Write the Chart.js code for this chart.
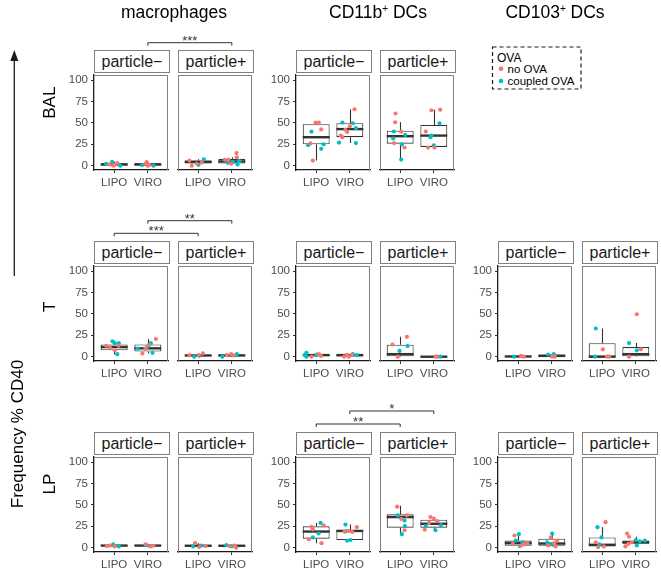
<!DOCTYPE html>
<html>
<head>
<meta charset="utf-8">
<script src="https://cdn.jsdelivr.net/npm/chart.js@4.4.1/dist/chart.umd.min.js"></script>
<style>
body { margin: 0; background: #fff; }
#wrap { position: relative; width: 661px; height: 573px; overflow: hidden; font-family: 'Liberation Sans', Arial, sans-serif; }
canvas { position: absolute; }
.strip { position: absolute; box-sizing: border-box; width: 76px; height: 23px; border: 1px solid #7f7f7f; background: #fff;
  text-align: center; font-size: 16px; line-height: 21px; color: #1a1a1a; }
svg { position: absolute; left: 0; top: 0; }
</style>
</head>
<body>
<div id="wrap"></div>
<script>
// x categories and y tick labels
const groups = ['LIPO', 'VIRO'];
const yTicks = [0, 25, 50, 75, 100];
const facetLabels = ['particle\u2212', 'particle+'];

// box stats: [lower whisker, q1, median, q3, upper whisker] for LIPO, VIRO
// points: [x (1 = LIPO, 2 = VIRO, with jitter), value, ova (0 = no OVA, 1 = coupled OVA)]

// macrophages
const macBALneg_box = [[0, 0.3, 1.5, 3, 4.5], [0, 0.3, 1.5, 2.8, 4.2]];
const macBALneg_pts = [[0.76,2.3,1],[0.94,4.5,1],[0.86,1.5,0],[0.97,0,0],[1.09,3,0],[1.18,0,1],[1.02,1.1,0],
  [1.83,0.8,1],[1.93,2.3,0],[2.0,0,0],[1.97,4.2,0],[2.17,0,1],[2.05,1.1,0]];
const macBALpos_box = [[0, 2.5, 4.5, 6.2, 7.5], [1.5, 2.6, 5, 8, 9.8]];
const macBALpos_pts = [[0.74,6,0],[0.81,0,0],[0.96,2.3,0],[1.01,1.1,1],[1.17,7.5,1],[1.11,3.8,0],
  [1.79,7,0],[1.88,3.4,1],[2.14,14.8,0],[2.15,9.8,0],[1.98,2.3,0],[2.17,1.5,1],[2.22,5.3,1],[2.03,4.2,1],[1.9,6.8,0]];

const macTneg_box = [[3, 7.5, 11.3, 14.3, 18], [3.8, 6, 9.8, 14.3, 20.7]];
const macTneg_pts = [[0.76,12.8,0],[0.95,18,1],[1.02,15.8,1],[0.87,11.3,0],[1.02,7.5,0],[1.09,3,1],[1.14,15.8,1],[1.13,12.8,0],
  [2.24,20.7,0],[2.09,15.8,1],[1.84,3.8,0],[1.93,9.4,0],[1.7,9.4,1],[2.14,4.5,1],[2.03,13.5,0],[1.98,11.3,1]];
const macTpos_box = [[0, 0.5, 1.5, 2, 3.8], [0, 0.5, 1.5, 2.5, 3]];
const macTpos_pts = [[0.74,1.9,0],[0.88,0,1],[1.14,3.8,0],[1.03,1.1,1],[1.01,1.9,0],
  [1.72,0,1],[1.85,1.9,0],[1.98,3,0],[2.15,3,1],[2.06,1.5,0]];

const macLPneg_box = [[1.5, 1.8, 2.5, 3.3, 3.8], [1.5, 2, 2.5, 3.3, 3.8]];
const macLPneg_pts = [[0.87,2.6,0],[0.97,3.8,1],[1.02,1.5,0],[1.14,1.5,1],[0.78,1.9,0],
  [1.93,3.8,0],[2.0,2.6,1],[2.08,1.5,0],[2.17,2.3,0]];
const macLPpos_box = [[0.8, 1.5, 2.3, 3, 5.3], [0, 1.5, 2.3, 3, 3]];
const macLPpos_pts = [[0.91,5.3,0],[0.85,1.5,1],[1.03,0.8,0],[1.1,2.6,1],[1.22,1.9,0],
  [1.84,3,1],[1.93,1.9,0],[2.08,2.6,0],[2.0,1.5,1],[2.13,0,0]];

// CD11b+ DCs
const cd11bBALneg_box = [[6, 25, 33.3, 48.5, 50.4], [26.5, 33.3, 42.8, 49.6, 66]];
const cd11bBALneg_pts = [[0.98,50.4,0],[1.08,50.4,0],[1.15,42.4,0],[0.83,26,0],[0.86,39.8,1],[0.76,24,1],[1.15,19.7,1],[1.22,25,1],[0.9,6,0],
  [2.14,66,0],[1.78,50.4,1],[2.09,49.6,1],[2.0,46,0],[1.87,42,0],[1.92,39.4,0],[1.73,35.2,0],[1.78,33.3,0],[2.18,44,1],[1.68,27,1],[2.18,26.5,1]];
const cd11bBALpos_box = [[7.2, 25.8, 34.5, 41, 50.7], [21.2, 22, 35.2, 47.7, 65.5]];
const cd11bBALpos_pts = [[0.86,61,0],[0.85,50.8,0],[1.03,39.8,0],[0.81,40,1],[0.79,31.8,1],[1.15,36,1],[0.82,26.5,0],[1.05,25,1],[1.13,21.2,0],[1.03,7.2,1],
  [1.93,64.8,0],[2.19,65.5,0],[2.17,49.6,1],[1.76,40,0],[1.93,35.2,1],[1.9,33.3,1],[2.0,23.9,1],[1.83,21.2,0],[2.02,21.2,0]];

const cd11bTneg_box = [[0, 0.5, 1.9, 3, 4.5], [0, 0.3, 1.9, 2.5, 3]];
const cd11bTneg_pts = [[0.71,4.5,1],[0.71,0,1],[0.86,0,0],[1.08,3,0],[1.14,1.1,0],[0.66,1.9,1],[1.0,1.9,1],
  [1.83,0,0],[1.92,2.3,0],[2.07,1.9,0],[2.09,3,1],[1.97,0,0],[2.21,1.9,1]];
const cd11bTpos_box = [[0, 0.5, 3, 14, 23.3], [0, 0, 0, 0.4, 0.4]];
const cd11bTpos_pts = [[0.77,14.3,0],[0.98,6.8,1],[1.2,23.3,0],[1.22,12.4,1],[0.93,0,0],
  [2.1,0,0],[2.19,0,1],[2.05,0,0]];

const cd11bLPneg_box = [[5.3, 10.6, 18.9, 25, 29], [8.3, 9, 19.6, 21, 27]];
const cd11bLPneg_pts = [[0.86,24.5,0],[0.9,21.5,0],[1.13,29,1],[1.22,26,0],[0.9,12,1],[1.07,16.6,1],[0.78,9.8,0],[1.16,5.3,0],
  [1.87,27,1],[2.21,24,0],[1.97,19.6,0],[2.07,18.5,0],[1.92,8.3,1],[2.02,9,1],[1.84,18.9,0],[1.87,19,1]];
const cd11bLPpos_box = [[15.8, 23.4, 35.8, 39, 49], [20.4, 23.4, 28, 32.8, 35.8]];
const cd11bLPpos_pts = [[0.91,48,0],[0.93,37.7,1],[1.2,37.7,0],[1.03,33.6,0],[1.13,31.7,1],[1.14,25.3,1],[1.13,20.4,0],[1.05,15.8,1],
  [1.9,35.8,0],[2.0,34,0],[1.86,29,0],[1.76,25.3,1],[1.73,21,0],[2.05,20.4,1],[2.21,26.4,1],[2.1,31,0]];

// CD103+ DCs (no BAL panel)
const cd103Tneg_box = [[0, 0, 0.3, 0.8, 1.1], [0, 0.3, 1, 2.5, 3]];
const cd103Tneg_pts = [[0.88,0,1],[1.08,1.1,0],[1.17,0,0],
  [1.89,2.6,1],[2.06,3,1],[2.09,0,0],[2.01,0,0]];
const cd103Tpos_box = [[0, 0, 0, 15.8, 33], [0, 0.5, 3, 11.3, 16]];
const cd103Tpos_pts = [[0.81,33,1],[1.02,8.6,0],[0.79,0,1],[1.14,0,0],[1.21,0,0],
  [2.03,49.6,0],[1.8,16,1],[2.03,7.5,1],[2.15,8.6,0],[1.8,0,0]];

const cd103LPneg_box = [[1.9, 2.3, 5.3, 8.3, 15.8], [1.5, 2.3, 4.9, 10.6, 16.6]];
const cd103LPneg_pts = [[0.89,14.3,0],[1.02,15.8,1],[0.84,4.5,0],[0.93,8.3,1],[1.08,2.6,0],[1.17,3.8,0],[1.13,6.4,1],[1.27,5.3,0],[1.05,1.9,1],
  [2.01,16.6,1],[1.97,12,0],[2.16,8.3,0],[1.86,6.4,1],[1.96,3.8,1],[2.11,1.5,0],[1.89,2.6,0],[2.07,5.3,0]];
const cd103LPpos_box = [[0.7, 1.5, 3.4, 12, 24], [1.5, 4.5, 6.4, 8.5, 12.8]];
const cd103LPpos_pts = [[1.1,29.8,0],[0.86,24,1],[0.98,12,1],[0.81,6.4,0],[0.88,0.7,0],[1.05,1.5,0],[0.92,3.8,1],
  [1.74,16.5,0],[1.8,12.8,0],[2.0,9,1],[1.78,4.5,0],[2.03,2.6,1],[2.12,7.5,1],[2.27,8.3,1],[1.69,1.5,0],[1.88,6.3,0]];

const ovaLabels = ['no OVA', 'coupled OVA'];
const ovaColors = ['#F8766D', '#00BFC4'];

// layout
const FONT = "'Liberation Sans', Arial, sans-serif";
Chart.defaults.font.family = FONT;
const wrap = document.getElementById('wrap');
const colLeft = { mac: 94, cd11b: 296, cd103: 498 };
const rowTop = { BAL: 50, T: 241, LP: 432 };

const panels = [
  ['mac', 'BAL', macBALneg_box, macBALneg_pts, macBALpos_box, macBALpos_pts],
  ['cd11b', 'BAL', cd11bBALneg_box, cd11bBALneg_pts, cd11bBALpos_box, cd11bBALpos_pts],
  ['mac', 'T', macTneg_box, macTneg_pts, macTpos_box, macTpos_pts],
  ['cd11b', 'T', cd11bTneg_box, cd11bTneg_pts, cd11bTpos_box, cd11bTpos_pts],
  ['cd103', 'T', cd103Tneg_box, cd103Tneg_pts, cd103Tpos_box, cd103Tpos_pts],
  ['mac', 'LP', macLPneg_box, macLPneg_pts, macLPpos_box, macLPpos_pts],
  ['cd11b', 'LP', cd11bLPneg_box, cd11bLPneg_pts, cd11bLPpos_box, cd11bLPpos_pts],
  ['cd103', 'LP', cd103LPneg_box, cd103LPneg_pts, cd103LPpos_box, cd103LPpos_pts]
];

// whiskers, panel frame and median lines
const boxPlugin = {
  id: 'boxplot',
  beforeDatasetsDraw(chart, args, opts) {
    const { ctx, chartArea: a, scales: { x, y } } = chart;
    ctx.save();
    ctx.strokeStyle = '#7f7f7f';
    ctx.lineWidth = 1;
    ctx.beginPath();
    ctx.moveTo(a.left, a.top + 0.5);
    ctx.lineTo(a.right - 0.5, a.top + 0.5);
    ctx.lineTo(a.right - 0.5, a.bottom);
    ctx.stroke();
    ctx.strokeStyle = '#333';
    ctx.lineWidth = 1.1;
    opts.stats.forEach((s, i) => {
      const px = Math.round(x.getPixelForValue(i + 1)) + 0.5;
      ctx.beginPath();
      ctx.moveTo(px, y.getPixelForValue(s[0]));
      ctx.lineTo(px, y.getPixelForValue(s[1]));
      ctx.moveTo(px, y.getPixelForValue(s[3]));
      ctx.lineTo(px, y.getPixelForValue(s[4]));
      ctx.stroke();
    });
    ctx.restore();
  },
  afterDatasetDraw(chart, args, opts) {
    if (args.index !== 0) return;
    const { ctx, scales: { y } } = chart;
    ctx.save();
    ctx.strokeStyle = '#333';
    ctx.lineWidth = 2.4;
    chart.getDatasetMeta(0).data.forEach((bar, i) => {
      const p = bar.getProps(['x', 'width'], true);
      const py = y.getPixelForValue(opts.stats[i][2]);
      ctx.beginPath();
      ctx.moveTo(p.x - p.width / 2, py);
      ctx.lineTo(p.x + p.width / 2, py);
      ctx.stroke();
    });
    ctx.restore();
  }
};

// keep the plot area fixed: no extra room for overhanging tick labels
function noPad(s) {
  s.paddingTop = 0; s.paddingBottom = 0; s.paddingLeft = 0; s.paddingRight = 0;
}

const charts = {};

function makeFacet(key, left, stripTop, box, pts, showY, label) {
  const strip = document.createElement('div');
  strip.className = 'strip';
  strip.style.left = left + 'px';
  strip.style.top = stripTop + 'px';
  strip.textContent = label;
  wrap.appendChild(strip);

  const cv = document.createElement('canvas');
  cv.width = 118;
  cv.height = 121;
  cv.style.left = (left - 40) + 'px';
  cv.style.top = (stripTop + 21) + 'px';
  wrap.appendChild(cv);

  const pointSets = [0, 1].map(g => ({
    type: 'scatter',
    data: pts.filter(p => p[2] === g).map(p => ({ x: p[0], y: p[1] })),
    backgroundColor: ovaColors[g],
    pointRadius: 2.1,
    pointBorderWidth: 0,
    order: 1
  }));

  const chart = new Chart(cv.getContext('2d'), {
    type: 'bar',
    data: {
      datasets: [{
        type: 'bar',
        data: box.map((s, i) => ({ x: i + 1, y: [s[1], s[3]] })),
        backgroundColor: '#ffffff',
        borderColor: '#333',
        borderWidth: 1.1,
        borderSkipped: false,
        barPercentage: 0.8,
        categoryPercentage: 1,
        order: 3
      }].concat(pointSets)
    },
    options: {
      responsive: false,
      animation: false,
      events: [],
      layout: { padding: { top: 1, right: 2, left: 0, bottom: 0 } },
      plugins: { legend: { display: false }, tooltip: { enabled: false }, boxplot: { stats: box } },
      scales: {
        x: {
          type: 'linear', min: 0.4, max: 2.6, offset: false,
          afterBuildTicks: s => { s.ticks = groups.map((g, i) => ({ value: i + 1 })); },
          afterFit: s => { s.height = 22; noPad(s); },
          ticks: { callback: (v, i) => groups[i], color: '#4d4d4d', font: { size: 11.5 }, padding: 3, maxRotation: 0, autoSkip: false },
          grid: { display: true, offset: false, drawOnChartArea: false, drawTicks: true, tickLength: 3, color: '#333' },
          border: { display: true, color: '#1a1a1a', width: 1.3 }
        },
        y: {
          min: -5, max: 106,
          afterBuildTicks: s => { s.ticks = yTicks.map(v => ({ value: v })); },
          afterFit: s => { s.width = 40; noPad(s); },
          ticks: { display: showY, color: '#4d4d4d', font: { size: 11.5 }, padding: 3 },
          grid: { display: showY, drawOnChartArea: false, drawTicks: true, tickLength: 3, color: '#333' },
          border: { display: true, color: showY ? '#1a1a1a' : '#7f7f7f', width: showY ? 1.3 : 1 }
        }
      }
    },
    plugins: [boxPlugin]
  });
  charts[key] = { chart, left: left - 40 };
}

panels.forEach(([col, row, nb, np, pb, pp]) => {
  makeFacet(col + row + '0', colLeft[col], rowTop[row], nb, np, true, facetLabels[0]);
  makeFacet(col + row + '1', colLeft[col] + 84, rowTop[row], pb, pp, false, facetLabels[1]);
});

// significance brackets: [panel, from facet, from group, to facet, to group, line y, label]
const brackets = [
  ['macBAL', 0, 1, 1, 1, 42.7, '***'],
  ['macT', 0, 1, 1, 1, 220.7, '**'],
  ['macT', 0, 0, 1, 0, 233.3, '***'],
  ['cd11bLP', 0, 1, 1, 1, 411, '*'],
  ['cd11bLP', 0, 0, 1, 0, 424, '**']
];

function px(key, g) {
  const c = charts[key];
  return c.chart.scales.x.getPixelForValue(g + 1) + c.left;
}

let svg = '<svg width="661" height="573" xmlns="http://www.w3.org/2000/svg" font-family="' + FONT.replace(/'/g, '') + '">';
brackets.forEach(([p, f1, g1, f2, g2, y, lab]) => {
  const x1 = px(p + f1, g1), x2 = px(p + f2, g2);
  svg += `<path d="M${x1},${y + 3} V${y} H${x2} V${y + 3}" fill="none" stroke="#333" stroke-width="1"/>`;
  svg += `<text x="${(x1 + x2) / 2}" y="${y + 2}" text-anchor="middle" font-size="13" fill="#333">${lab}</text>`;
});

// column titles
svg += '<text x="174" y="17.5" text-anchor="middle" font-size="17.5" fill="#000">macrophages</text>';
svg += '<text x="378" y="17.5" text-anchor="middle" font-size="17.5" fill="#000">CD11b<tspan dy="-6" font-size="10">+</tspan><tspan dy="6"> DCs</tspan></text>';
svg += '<text x="555" y="17.5" text-anchor="middle" font-size="17.5" fill="#000">CD103<tspan dy="-6" font-size="10">+</tspan><tspan dy="6"> DCs</tspan></text>';

// row labels
svg += '<text transform="translate(55,102.7) rotate(-90)" text-anchor="middle" font-size="17" fill="#000">BAL</text>';
svg += '<text transform="translate(55,306.7) rotate(-90)" text-anchor="middle" font-size="17" fill="#000">T</text>';
svg += '<text transform="translate(55,484) rotate(-90)" text-anchor="middle" font-size="17" fill="#000">LP</text>';

// y title and arrow
svg += '<text transform="translate(23,434) rotate(-90)" text-anchor="middle" font-size="17" fill="#000">Frequency % CD40</text>';
svg += '<line x1="14.3" y1="276" x2="14.3" y2="58" stroke="#1a1a1a" stroke-width="1.3"/>';
svg += '<polygon points="14.3,50 10.3,61 18.3,61" fill="#1a1a1a"/>';

// legend
svg += '<rect x="492.5" y="47" width="88.5" height="42" fill="#fff" stroke="#1a1a1a" stroke-width="1.2" stroke-dasharray="4,3"/>';
svg += '<text x="497" y="61.5" font-size="12" fill="#000">OVA</text>';
svg += `<circle cx="501" cy="68.7" r="2.3" fill="${ovaColors[0]}"/>`;
svg += `<text x="507.5" y="73" font-size="11.5" fill="#000">${ovaLabels[0]}</text>`;
svg += `<circle cx="501" cy="81" r="2.3" fill="${ovaColors[1]}"/>`;
svg += `<text x="507.5" y="85" font-size="11.5" fill="#000">${ovaLabels[1]}</text>`;
svg += '</svg>';

wrap.insertAdjacentHTML('beforeend', svg);
</script>
</body>
</html>
